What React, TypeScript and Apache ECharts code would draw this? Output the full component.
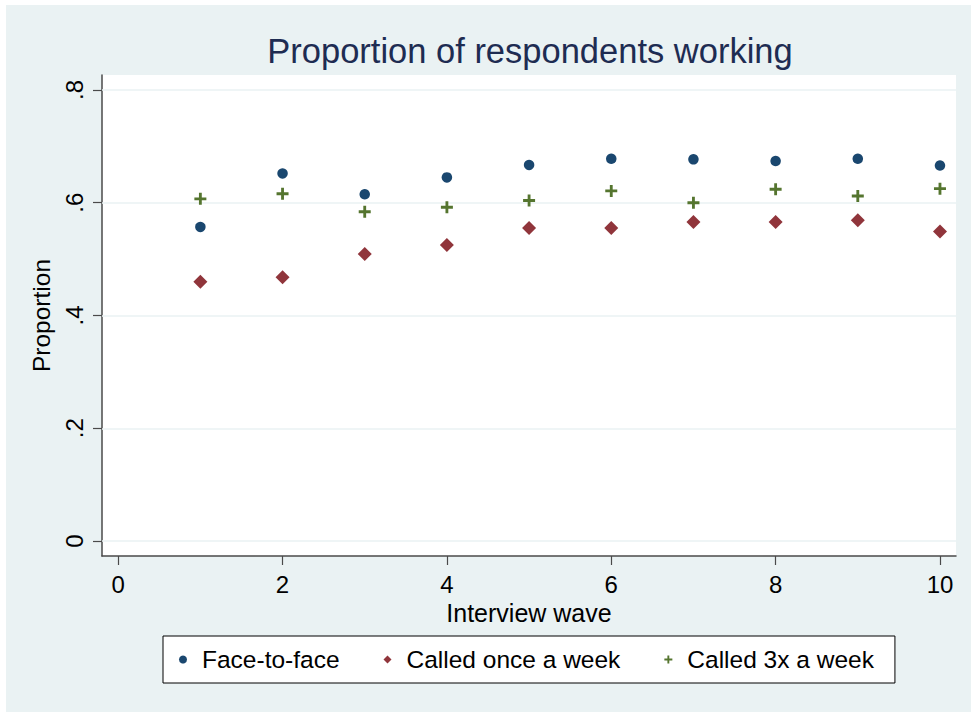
import React, { useEffect, useRef } from "react";
import * as echarts from "echarts";

const waves = [1, 2, 3, 4, 5, 6, 7, 8, 9, 10];
const faceToFace = [0.557, 0.652, 0.615, 0.645, 0.667, 0.678, 0.677, 0.674, 0.678, 0.666];
const calledOnce = [0.46, 0.468, 0.509, 0.525, 0.555, 0.555, 0.566, 0.566, 0.569, 0.549];
const called3x = [0.607, 0.616, 0.584, 0.592, 0.604, 0.621, 0.6, 0.624, 0.612, 0.625];
const xTicks = [0, 2, 4, 6, 8, 10];
const yTicks = [0, 0.2, 0.4, 0.6, 0.8];
const seriesNames = ["Face-to-face", "Called once a week", "Called 3x a week"];

const FONT = "'Liberation Sans', Arial, sans-serif";
const PLUS = "path://M0,4.2 H4.2 V0 H6.8 V4.2 H11 V6.8 H6.8 V11 H4.2 V6.8 H0 Z";
const COLORS = ["#1a476f", "#90353b", "#55752f"];

const fmtY = (v: number) => (v === 0 ? "0" : String(+v.toFixed(1)).replace(/^0/, ""));

export default function App() {
  const ref = useRef<HTMLDivElement>(null);
  useEffect(() => {
    if (!ref.current) return;
    const chart = echarts.init(ref.current, undefined, { renderer: "svg" });
    const pts = (ys: number[]) => waves.map((w, i) => [w, ys[i]]);
    chart.setOption({
      animation: false,
      backgroundColor: "#ffffff",
      graphic: [
        {
          type: "rect",
          left: 6,
          top: 5,
          shape: { width: 965, height: 707 },
          style: { fill: "#eaf2f3" },
          z: -10,
          silent: true,
        },
      ],
      title: {
        text: "Proportion of respondents working",
        left: 530,
        top: 33,
        padding: 0,
        textAlign: "center",
        textStyle: { fontFamily: FONT, fontSize: 34.5, fontWeight: "normal", color: "#1e2c52" },
      },
      grid: {
        left: 102,
        top: 75,
        right: 15,
        bottom: 156,
        show: true,
        backgroundColor: "#ffffff",
        borderWidth: 0,
        containLabel: false,
      },
      xAxis: {
        type: "value",
        min: -0.197,
        max: 10.195,
        name: "Interview wave",
        nameLocation: "middle",
        nameGap: 40,
        nameTextStyle: { fontFamily: FONT, fontSize: 25, color: "#000" },
        axisLine: { show: true, onZero: false, lineStyle: { color: "#4a4a4a", width: 1.5 } },
        axisTick: { show: true, length: 9, customValues: xTicks, lineStyle: { color: "#4a4a4a", width: 1.2 } },
        axisLabel: {
          customValues: xTicks,
          margin: 16,
          fontFamily: FONT,
          fontSize: 24,
          color: "#000",
        },
        splitLine: { show: false },
      },
      yAxis: {
        type: "value",
        min: -0.0266,
        max: 0.8266,
        name: "Proportion",
        nameLocation: "middle",
        nameGap: 40,
        nameRotate: 90,
        nameTextStyle: { fontFamily: FONT, fontSize: 24.5, color: "#000" },
        axisLine: { show: true, onZero: false, lineStyle: { color: "#4a4a4a", width: 1.5 } },
        axisTick: { show: true, length: 9, customValues: yTicks, lineStyle: { color: "#4a4a4a", width: 1.2 } },
        axisLabel: {
          customValues: yTicks,
          rotate: 90,
          margin: 16,
          fontFamily: FONT,
          fontSize: 24,
          color: "#000",
          formatter: (v: number) => fmtY(v),
        },
        splitLine: { show: false },
      },
      legend: {
        left: 163,
        top: 636,
        orient: "horizontal",
        backgroundColor: "#ffffff",
        borderColor: "#000000",
        borderWidth: 1,
        borderRadius: 0,
        padding: [11, 21, 11, 16],
        itemWidth: 8,
        itemHeight: 8,
        itemGap: 44,
        textStyle: { fontFamily: FONT, fontSize: 24.5, color: "#000", padding: [0, 0, 0, 10] },
        data: [
          { name: seriesNames[0], icon: "circle" },
          { name: seriesNames[1], icon: "diamond" },
          { name: seriesNames[2], icon: PLUS },
        ],
      },
      series: [
        {
          name: seriesNames[0],
          type: "scatter",
          symbol: "circle",
          symbolSize: 10.5,
          itemStyle: { color: COLORS[0], opacity: 1 },
          data: pts(faceToFace),
          z: 3,
          markLine: {
            silent: true,
            symbol: "none",
            z: 1,
            label: { show: false },
            lineStyle: { color: "#eaf2f3", width: 1.5, type: "solid" },
            emphasis: { disabled: true },
            data: yTicks.map((y) => ({ yAxis: y })),
          },
        },
        {
          name: seriesNames[1],
          type: "scatter",
          symbol: "diamond",
          symbolSize: [14, 14],
          itemStyle: { color: COLORS[1], opacity: 1 },
          data: pts(calledOnce),
          z: 3,
        },
        {
          name: seriesNames[2],
          type: "scatter",
          symbol: PLUS,
          symbolSize: 12,
          itemStyle: { color: COLORS[2], opacity: 1 },
          data: pts(called3x),
          z: 3,
        },
      ],
    });
    return () => chart.dispose();
  }, []);
  return (
    <div
      ref={ref}
      style={{ position: "fixed", left: 0, top: 0, width: 971, height: 712 }}
    />
  );
}
